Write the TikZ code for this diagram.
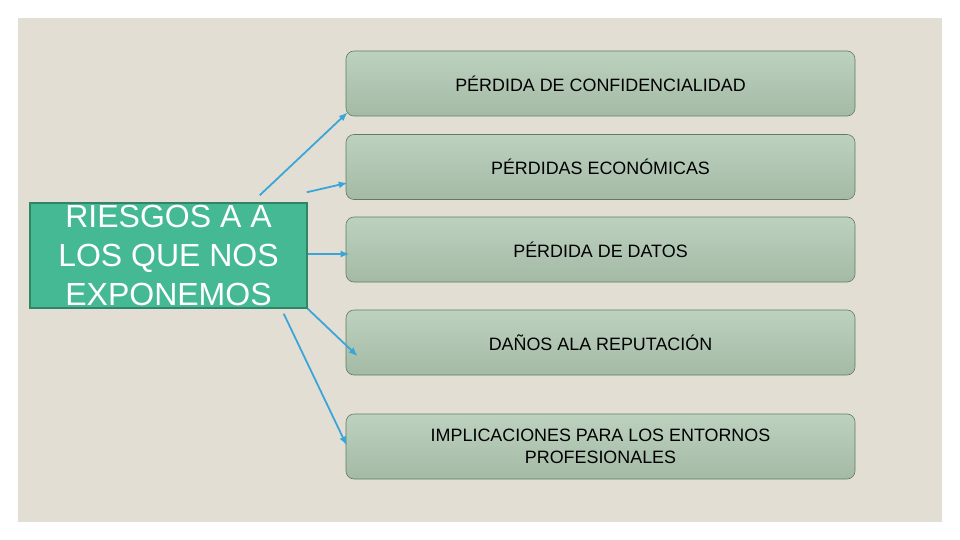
\documentclass[tikz,border=0pt]{standalone}
\usepackage{fontspec}
\setmainfont{Liberation Sans}
\usepackage{xcolor}
\usetikzlibrary{positioning,arrows.meta}
\definecolor{slidebg}{HTML}{E3DED4}
\definecolor{mainfill}{HTML}{45B894}
\definecolor{mainedge}{HTML}{2F8565}
\definecolor{boxtop}{HTML}{BCD2BF}
\definecolor{boxbot}{HTML}{A5BAA5}
\definecolor{boxedge}{HTML}{5C7D5E}
\definecolor{linkblue}{HTML}{3AA6D8}

\begin{document}
\begin{tikzpicture}[
  x=1pt, y=-1pt,
  font=\fontsize{17.9}{22}\selectfont,
  topic/.style={rectangle, draw=mainedge, line width=1.5pt, fill=mainfill, text=white, align=center,
    minimum width=277pt, minimum height=105pt, inner sep=0pt, font=\fontsize{32}{39}\selectfont},
  item/.style={rectangle, draw=boxedge, line width=0.6pt, rounded corners=8pt, top color=boxtop, bottom color=boxbot,
    align=center, minimum width=509pt, minimum height=65pt, inner sep=0pt},
  link/.style={-{Latex[length=9pt,width=7pt]}, line width=1.8pt, linkblue}
]
\useasboundingbox (0,0) rectangle (960,540);
\fill[white] (0,0) rectangle (960,540);
\fill[slidebg] (18,18) rectangle (942,522);
% main topic
\node[topic] (riesgos) at (168.5,255.5) {RIESGOS A A\\LOS QUE NOS\\EXPONEMOS};
% items
\node[item] (confid)  at (600.5,83.5)  {PÉRDIDA DE CONFIDENCIALIDAD};
\node[item] (econ)    at (600.5,167)   {PÉRDIDAS ECONÓMICAS};
\node[item] (datos)   at (600.5,249.5) {PÉRDIDA DE DATOS};
\node[item] (reput)   at (600.5,342.5) {DAÑOS ALA REPUTACIÓN};
\node[item] (entorno) at (600.5,446.5) {IMPLICACIONES PARA LOS ENTORNOS\\PROFESIONALES};
% links
\draw[link] ([xshift=-48pt,yshift=7pt]riesgos.north east) -- ([xshift=2pt,yshift=4pt]confid.south west);
\draw[link] ([xshift=-1pt,yshift=10pt]riesgos.north east) -- ([xshift=2pt,yshift=17pt]econ.south west);
\draw[link] ([yshift=1.5pt]riesgos.east) -- ([xshift=4pt,yshift=-4.5pt]datos.west);
\draw[link] (riesgos.south east) -- ([xshift=12pt,yshift=19pt]reput.south west);
\draw[link] ([xshift=-24pt,yshift=-5pt]riesgos.south east) -- ([xshift=1pt,yshift=1pt]entorno.west);
\end{tikzpicture}
\end{document}
